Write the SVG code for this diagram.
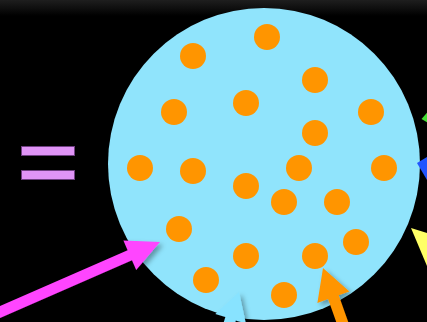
<svg xmlns="http://www.w3.org/2000/svg" width="427" height="322" viewBox="0 0 427 322">
<style>
.dot{fill:#ff9500}
.bar{fill:#e094f6;stroke:#6e3f80;stroke-width:1}
.arr{filter:url(#sh)}
</style>
<defs>
<linearGradient id="top" x1="0" y1="0" x2="0" y2="1">
<stop offset="0" stop-color="#1e1e1e"/>
<stop offset="1" stop-color="#000"/>
</linearGradient>
<filter id="sh" x="-30%" y="-30%" width="160%" height="160%">
<feDropShadow dx="3" dy="3" stdDeviation="2.5" flood-color="#000" flood-opacity="0.35"/>
</filter>
</defs>
<rect width="427" height="322" fill="#000"/>
<rect width="427" height="16" fill="url(#top)"/>
<g id="equals">
<rect class="bar" x="21.5" y="146.5" width="53" height="9"/>
<rect class="bar" x="21.5" y="170.5" width="53" height="9"/>
</g>
<g id="sphere">
<circle cx="264" cy="164" r="156" fill="#90e4fc"/>
<circle class="dot" cx="193" cy="56" r="13"/>
<circle class="dot" cx="267" cy="37" r="13"/>
<circle class="dot" cx="315" cy="80" r="13"/>
<circle class="dot" cx="174" cy="112" r="13"/>
<circle class="dot" cx="246" cy="103" r="13"/>
<circle class="dot" cx="371" cy="112" r="13"/>
<circle class="dot" cx="315" cy="133" r="13"/>
<circle class="dot" cx="140" cy="168" r="13"/>
<circle class="dot" cx="193" cy="171" r="13"/>
<circle class="dot" cx="246" cy="186" r="13"/>
<circle class="dot" cx="299" cy="168" r="13"/>
<circle class="dot" cx="384" cy="168" r="13"/>
<circle class="dot" cx="284" cy="202" r="13"/>
<circle class="dot" cx="337" cy="202" r="13"/>
<circle class="dot" cx="179" cy="229" r="13"/>
<circle class="dot" cx="356" cy="242" r="13"/>
<circle class="dot" cx="246" cy="256" r="13"/>
<circle class="dot" cx="315" cy="256" r="13"/>
<circle class="dot" cx="206" cy="280" r="13"/>
<circle class="dot" cx="284" cy="295" r="13"/>
</g>
<g id="connectors">
<polygon class="arr" fill="#ff44ff" points="160,242 123.4,240.5 127.6,250.2 -55.6,330.4 -51.2,340.4 132,260.2 136.2,269.9"/>
<polygon class="arr" fill="#ff9500" points="323,268 349.4,291.5 338.7,295.3 372.2,389.5 361.6,393.3 328.1,299.1 317.4,302.9"/>
<polygon class="arr" fill="#88e3ff" points="239,292 245.9,323.5 235.8,320.4 205.8,415.8 195.4,412.5 225.4,317.1 215.3,313.9"/>
<polygon fill="#44dd33" points="421.5,119 432,107 432,125"/>
<polygon fill="#2255ff" points="417,163 437,151 437,197"/>
<polygon fill="#ffff66" points="411,228 443,238 443,304"/>
</g>
</svg>
